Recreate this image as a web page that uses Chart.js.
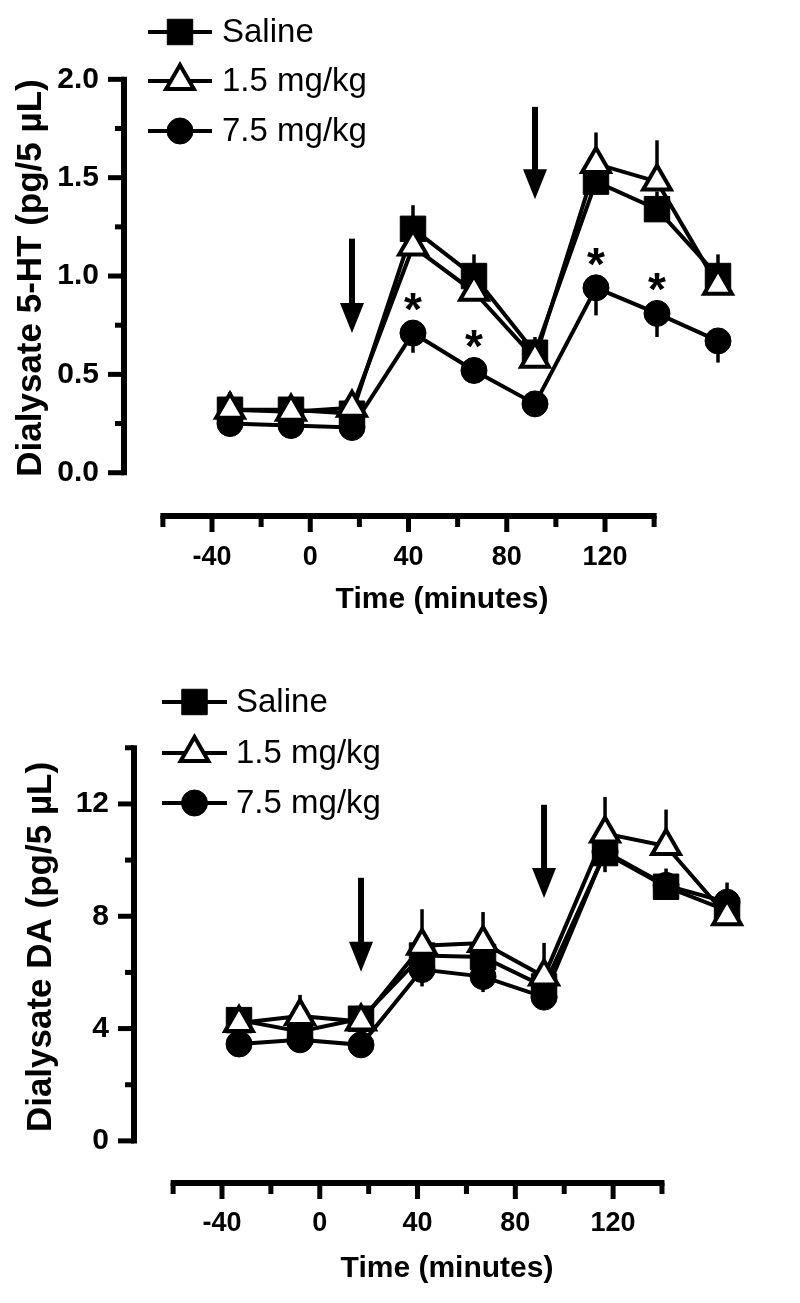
<!DOCTYPE html>
<html>
<head>
<meta charset="utf-8">
<script src="https://cdn.jsdelivr.net/npm/chart.js@4.4.1/dist/chart.umd.min.js"></script>
<style>
  body { margin: 0; background: #fff; }
  #wrap { position: relative; width: 800px; height: 1303px; }
  canvas { position: absolute; left: 0; }
  #c1 { top: 0; }
  #c2 { top: 640px; }
</style>
</head>
<body>
<div id="wrap">
  <canvas id="c1" width="800" height="640"></canvas>
  <canvas id="c2" width="800" height="663"></canvas>
</div>
<script>
// sample times (minutes) and group names
var times = [-40, -20, 0, 20, 40, 60, 80, 100, 120];
var groups = ['Saline', '1.5 mg/kg', '7.5 mg/kg'];

// dialysate 5-HT (pg/5 uL), mean and SEM
var ht_saline = [0.32, 0.32, 0.30, 1.24, 1.00, 0.61, 1.48, 1.34, 1.00];
var ht_low    = [0.32, 0.31, 0.33, 1.15, 0.92, 0.58, 1.57, 1.48, 0.95];
var ht_high   = [0.25, 0.24, 0.23, 0.71, 0.52, 0.35, 0.94, 0.81, 0.67];
var ht_salineErr = [0.09, 0.06, 0.04, 0.12, 0.11, 0.08, 0.10, 0.09, 0.11];
var ht_lowErr    = [0.08, 0.06, 0.05, 0.10, 0.08, 0.07, 0.16, 0.21, 0.08];
var ht_highErr   = [0.03, 0.03, 0.03, 0.10, 0.06, 0.04, 0.14, 0.12, 0.11];
var ht_sig = [3, 4, 6, 7];   // points of 7.5 mg/kg marked with *
var ht_yTicks = [0, 0.25, 0.5, 0.75, 1, 1.25, 1.5, 1.75, 2];

// dialysate DA (pg/5 uL), mean and SEM
var da_saline = [4.30, 3.90, 4.35, 6.60, 6.55, 5.50, 10.25, 9.05, 8.20];
var da_low    = [4.20, 4.45, 4.25, 6.95, 7.05, 5.85, 10.95, 10.50, 8.00];
var da_high   = [3.45, 3.60, 3.42, 6.10, 5.85, 5.12, 10.30, 9.10, 8.50];
var da_salineErr = [0.40, 0.35, 0.40, 0.50, 0.60, 0.50, 0.40, 0.65, 1.00];
var da_lowErr    = [0.45, 0.75, 0.45, 1.30, 1.10, 1.20, 1.30, 1.30, 0.40];
var da_highErr   = [0.30, 0.30, 0.30, 0.60, 0.55, 0.30, 0.73, 0.50, 0.50];
var da_yTicks = [0, 2, 4, 6, 8, 10, 12, 14];

var xTicks = [-60, -40, -20, 0, 20, 40, 60, 80, 100, 120, 140];
var injections = [0, 60];

var SANS = "'Liberation Sans', Arial, sans-serif";

Chart.defaults.color = '#000';

function series(label, vals, err, dir, style, radius, fill, order) {
  return {
    label: label,
    data: times.map(function(t, i) { return {x: t, y: vals[i]}; }),
    err: err,
    errDir: dir,
    borderColor: '#000',
    borderWidth: 4,
    pointStyle: style,
    pointRadius: radius,
    pointHoverRadius: radius,
    pointBackgroundColor: fill,
    pointBorderColor: '#000',
    pointBorderWidth: style === 'triangle' ? 4 : 1,
    tension: 0,
    fill: false,
    order: order,
    xAxisID: 'x',
    yAxisID: 'y'
  };
}

var figPlugin = {
  id: 'fig',
  beforeDatasetsDraw: function(chart) {
    // one-sided SEM bars, under the markers
    var ctx = chart.ctx, xs = chart.scales.x, ys = chart.scales.y;
    ctx.save();
    ctx.strokeStyle = '#000';
    ctx.lineWidth = 3.5;
    chart.data.datasets.forEach(function(ds) {
      ds.data.forEach(function(p, i) {
        var e = ds.err[i];
        if (!e) return;
        var px = xs.getPixelForValue(p.x);
        ctx.beginPath();
        ctx.moveTo(px, ys.getPixelForValue(p.y));
        ctx.lineTo(px, ys.getPixelForValue(p.y + ds.errDir * e));
        ctx.stroke();
      });
    });
    ctx.restore();
  },
  afterDraw: function(chart, args, opts) {
    var ctx = chart.ctx, area = chart.chartArea;
    var xs = chart.scales.x, ys = chart.scales.y, xt = chart.scales.xt;
    ctx.save();
    ctx.strokeStyle = '#000';
    ctx.fillStyle = '#000';

    // y axis line + ticks
    var yt = opts.yTicks;
    ctx.lineWidth = 6;
    ctx.beginPath();
    ctx.moveTo(area.left, ys.getPixelForValue(yt[0]) + 2.5);
    ctx.lineTo(area.left, ys.getPixelForValue(yt[yt.length - 1]) - 2.5);
    ctx.stroke();
    ctx.lineWidth = 5;
    yt.forEach(function(v, i) {
      var py = ys.getPixelForValue(v);
      ctx.beginPath();
      ctx.moveTo(area.left, py);
      ctx.lineTo(area.left - (i % 2 === 0 ? 16 : 9), py);
      ctx.stroke();
    });

    // detached x axis line + ticks
    var base = area.bottom;
    ctx.lineWidth = 6;
    ctx.beginPath();
    ctx.moveTo(xt.getPixelForValue(xTicks[0]) - 2.5, base);
    ctx.lineTo(xt.getPixelForValue(xTicks[xTicks.length - 1]) + 2.5, base);
    ctx.stroke();
    ctx.lineWidth = 5;
    xTicks.forEach(function(v) {
      var px = xt.getPixelForValue(v);
      ctx.beginPath();
      ctx.moveTo(px, base);
      ctx.lineTo(px, base + (v % 40 === 0 ? 16 : 11));
      ctx.stroke();
    });

    // injection arrows
    opts.arrows.forEach(function(a) {
      var px = xs.getPixelForValue(a.t);
      var top = ys.getPixelForValue(a.from), tip = ys.getPixelForValue(a.to);
      ctx.fillRect(px - 3, top, 6, tip - top - 25);
      ctx.beginPath();
      ctx.moveTo(px - 12, tip - 30);
      ctx.lineTo(px + 12, tip - 30);
      ctx.lineTo(px, tip);
      ctx.closePath();
      ctx.fill();
    });

    // significance marks
    if (opts.stars) {
      var sd = chart.data.datasets[opts.stars.ds];
      var fs = 46;
      ctx.font = 'bold ' + fs + 'px ' + SANS;
      ctx.textAlign = 'center';
      ctx.textBaseline = 'alphabetic';
      opts.stars.idx.forEach(function(i) {
        var p = sd.data[i];
        ctx.fillText('*', xs.getPixelForValue(p.x), ys.getPixelForValue(p.y) - 35 + fs * 0.585);
      });
    }

    // legend: line through marker, label to the right
    var lg = opts.legend;
    ctx.font = '33px ' + SANS;
    ctx.textAlign = 'left';
    ctx.textBaseline = 'middle';
    chart.data.datasets.forEach(function(ds, i) {
      var y = lg.rows[i];
      ctx.strokeStyle = '#000';
      ctx.lineWidth = 4;
      ctx.beginPath();
      ctx.moveTo(lg.x0, y);
      ctx.lineTo(lg.x1, y);
      ctx.stroke();
      var o = chart.getDatasetMeta(i).data[0].options;
      ctx.fillStyle = o.backgroundColor;
      ctx.strokeStyle = o.borderColor;
      ctx.lineWidth = o.borderWidth;
      Chart.helpers.drawPoint(ctx, o, (lg.x0 + lg.x1) / 2, y);
      ctx.fillStyle = '#000';
      ctx.fillText(ds.label, lg.tx, y + 1);
    });
    ctx.restore();
  }
};

function makeChart(id, c) {
  return new Chart(document.getElementById(id), {
    type: 'line',
    data: {
      datasets: [
        series(groups[0], c.saline, c.salineErr, 1, 'rect', 18, '#000', 1),
        series(groups[1], c.low, c.lowErr, 1, 'triangle', 16, '#fff', 0),
        series(groups[2], c.high, c.highErr, -1, 'circle', 13, '#000', 2)
      ]
    },
    options: {
      responsive: false,
      animation: false,
      events: [],
      layout: { padding: { top: c.top, right: 40, left: 0, bottom: 0 } },
      plugins: {
        legend: { display: false },
        tooltip: { enabled: false },
        fig: { yTicks: c.yTicks, arrows: c.arrows, stars: c.stars, legend: c.legend }
      },
      scales: {
        x: { type: 'linear', display: false, min: c.dataMin, max: c.dataMax },
        xt: {
          type: 'linear', position: 'bottom', min: c.axisMin, max: c.axisMax,
          afterBuildTicks: function(s) { s.ticks = xTicks.map(function(v) { return {value: v}; }); },
          afterFit: function(s) { s.height = c.xHeight; },
          grid: { display: false },
          border: { display: false },
          ticks: {
            autoSkip: false, maxRotation: 0, padding: c.xLabelPad,
            font: { family: SANS, size: 27, weight: 'bold' },
            callback: function(v) { return v % 40 === 0 ? String(v) : ''; }
          },
          title: {
            display: true, text: 'Time (minutes)',
            font: { family: SANS, size: 30, weight: 'bold' },
            padding: { top: 0, bottom: c.xTitlePad }
          }
        },
        y: {
          type: 'linear', position: 'left', min: c.yMin, max: c.yMax,
          afterBuildTicks: function(s) { s.ticks = c.yTicks.map(function(v) { return {value: v}; }); },
          afterFit: function(s) { s.width = c.yWidth; },
          grid: { display: false },
          border: { display: false },
          ticks: {
            autoSkip: false, padding: 17,
            font: { family: SANS, size: 30, weight: 'bold' },
            callback: c.yLabel
          },
          title: {
            display: true, text: c.yTitle,
            font: { family: SANS, size: 35, weight: 'bold' },
            padding: { top: c.yTitlePad, bottom: 0 }
          }
        }
      }
    },
    plugins: [figPlugin]
  });
}

makeChart('c1', {
  saline: ht_saline, low: ht_low, high: ht_high,
  salineErr: ht_salineErr, lowErr: ht_lowErr, highErr: ht_highErr,
  yTicks: ht_yTicks, yMin: -0.22, yMax: 2.2,
  yLabel: function(v) { return Math.abs(v * 2 - Math.round(v * 2)) < 1e-6 ? v.toFixed(1) : ''; },
  yTitle: 'Dialysate 5-HT (pg/5 µL)',
  dataMin: -74.75, dataMax: 133.77, axisMin: -75.83, axisMax: 183.1,
  top: 40, yWidth: 124, xHeight: 124, xLabelPad: 17, xTitlePad: 22, yTitlePad: 10,
  arrows: [{t: injections[0], from: 1.19, to: 0.71}, {t: injections[1], from: 1.86, to: 1.39}],
  stars: {ds: 2, idx: ht_sig},
  legend: {x0: 148, x1: 212, tx: 222, rows: [32, 81, 131]}
});

makeChart('c2', {
  saline: da_saline, low: da_low, high: da_high,
  salineErr: da_salineErr, lowErr: da_lowErr, highErr: da_highErr,
  yTicks: da_yTicks, yMin: -1.5, yMax: 15.31,
  yLabel: function(v) { return v % 4 === 0 ? String(v) : ''; },
  yTitle: 'Dialysate DA (pg/5 µL)',
  dataMin: -74.43, dataMax: 130.8, axisMin: -76, axisMax: 180.1,
  top: 71, yWidth: 134, xHeight: 120, xLabelPad: 16, xTitlePad: 16, yTitlePad: 20,
  arrows: [{t: injections[0], from: 9.37, to: 6.02}, {t: injections[1], from: 11.97, to: 8.65}],
  stars: null,
  legend: {x0: 162, x1: 227, tx: 236, rows: [62, 113, 163]}
});
</script>
</body>
</html>
